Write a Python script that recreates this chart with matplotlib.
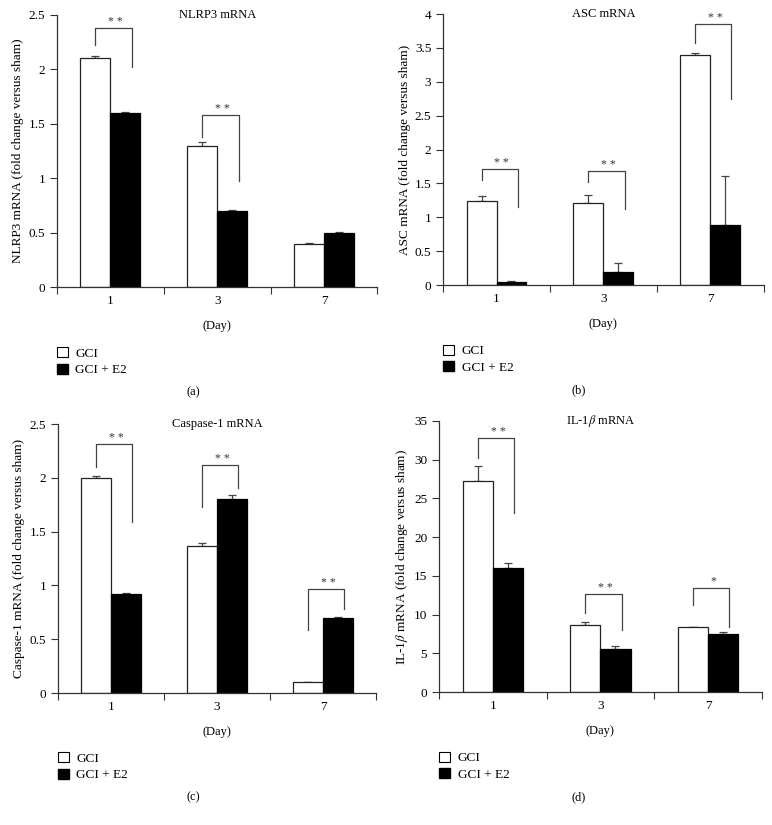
import matplotlib
matplotlib.use("Agg")
import matplotlib.pyplot as plt
from matplotlib.patches import Patch
from matplotlib.ticker import FuncFormatter

plt.rcParams['font.family'] = ['Liberation Serif', 'DejaVu Serif']
plt.rcParams['mathtext.fontset'] = 'stix'

days = ['1', '3', '7']

nlrp3_gci = [2.10, 1.30, 0.40]
nlrp3_gci_err = [0.02, 0.03, 0.005]
nlrp3_e2 = [1.60, 0.70, 0.50]
nlrp3_e2_err = [0.01, 0.005, 0.01]

asc_gci = [1.24, 1.21, 3.40]
asc_gci_err = [0.07, 0.12, 0.02]
asc_e2 = [0.05, 0.19, 0.89]
asc_e2_err = [0.01, 0.13, 0.72]

casp_gci = [2.00, 1.37, 0.10]
casp_gci_err = [0.02, 0.02, 0.003]
casp_e2 = [0.92, 1.80, 0.70]
casp_e2_err = [0.01, 0.04, 0.01]

il1b_gci = [27.3, 8.7, 8.35]
il1b_gci_err = [1.9, 0.3, 0.1]
il1b_e2 = [16.0, 5.6, 7.45]
il1b_e2_err = [0.6, 0.3, 0.25]

# significance brackets: (day index, top, left leg end, right leg end, stars)
nlrp3_sig = [(0, 2.38, 2.22, 2.02, '* *'), (1, 1.58, 1.38, 0.97, '* *')]
asc_sig = [(0, 1.72, 1.55, 1.15, '* *'), (1, 1.69, 1.52, 1.12, '* *'),
           (2, 3.85, 3.57, 2.74, '* *')]
casp_sig = [(0, 2.31, 2.10, 1.59, '* *'), (1, 2.12, 1.73, 1.91, '* *'),
            (2, 0.97, 0.59, 0.78, '* *')]
il1b_sig = [(0, 32.8, 30.2, 23.1, '* *'), (1, 12.66, 10.2, 8.0, '* *'),
            (2, 13.47, 11.2, 8.4, '*')]

FS = 8.5
AX_COL = '#333333'


def panel(fig, rect, gci, gci_err, e2, e2_err, sig, ymax, ystep, title, ylabel, letter, sub_left):
    ax = fig.add_axes(rect)
    x = range(len(days))
    w = 0.28
    xg = [i - w / 2 for i in x]
    xe = [i + w / 2 for i in x]
    ax.bar(xg, gci, w, color='white', edgecolor='#222222', linewidth=0.9, zorder=2)
    ax.bar(xe, e2, w, color='black', edgecolor='black', linewidth=0.9, zorder=2)
    ax.errorbar(xg, gci, yerr=[[0] * 3, gci_err], fmt='none', ecolor='#444444',
                elinewidth=0.9, capsize=3, capthick=0.9, zorder=1)
    ax.errorbar(xe, e2, yerr=[[0] * 3, e2_err], fmt='none', ecolor='#444444',
                elinewidth=0.9, capsize=3, capthick=0.9, zorder=1)

    for i, top, lb, rb, stars in sig:
        xl, xr = i - 0.14, i + 0.20
        ax.plot([xl, xl, xr, xr], [lb, top, top, rb], color='#444444', lw=0.9,
                clip_on=False)
        ax.text((xl + xr) / 2 + 0.02, top, stars, ha='center', va='bottom',
                fontsize=FS, color='#333333')

    ax.set_xlim(-0.5, 2.5)
    ax.set_ylim(0, ymax)
    ax.set_xticks([-0.5, 0.5, 1.5, 2.5])
    ax.set_xticklabels([])
    ax.set_xticks(list(x), minor=True)
    ax.set_xticklabels(days, minor=True)
    ax.tick_params(axis='x', which='major', length=5, direction='out', color=AX_COL)
    ax.tick_params(axis='x', which='minor', length=0, pad=6, labelsize=FS + 1)
    ticks = [ystep * k for k in range(int(round(ymax / ystep)) + 1)]
    ax.set_yticks(ticks)
    ax.yaxis.set_major_formatter(FuncFormatter(lambda v, p: '%g' % round(v, 2)))
    ax.tick_params(axis='y', length=5, direction='out', labelsize=FS + 1, color=AX_COL)
    for s in ['top', 'right']:
        ax.spines[s].set_visible(False)
    for s in ['left', 'bottom']:
        ax.spines[s].set_color(AX_COL)
        ax.spines[s].set_linewidth(0.9)

    ax.text(0.5, 1.0, title, transform=ax.transAxes, ha='center', va='center',
            fontsize=FS + 0.5)
    ax.set_ylabel(ylabel, fontsize=FS + 1, labelpad=3)
    ax.set_xlabel('(Day)', fontsize=FS + 0.5, labelpad=9)

    handles = [Patch(facecolor='white', edgecolor='black', linewidth=0.8, label='GCI'),
               Patch(facecolor='black', edgecolor='black', label='GCI + E2')]
    ax.legend(handles=handles, loc='upper left', bbox_to_anchor=(0.0, -0.22),
              frameon=False, fontsize=FS + 1, handlelength=0.8, handleheight=0.8,
              handletextpad=0.6, labelspacing=0.3, borderaxespad=0, borderpad=0)
    fig.text(sub_left + 0.5 * 386 / 772, rect[1] - 0.127, letter, ha='center',
             va='center', fontsize=FS + 0.5)
    return ax


fig = plt.figure(figsize=(7.72, 8.25), dpi=100)

panel(fig, [0.0738, 0.652, 0.415, 0.330], nlrp3_gci, nlrp3_gci_err, nlrp3_e2, nlrp3_e2_err,
      nlrp3_sig, 2.5, 0.5, 'NLRP3 mRNA', 'NLRP3 mRNA (fold change versus sham)', '(a)', 0.0)
panel(fig, [0.574, 0.6545, 0.415, 0.3285], asc_gci, asc_gci_err, asc_e2, asc_e2_err,
      asc_sig, 4, 0.5, 'ASC mRNA', 'ASC mRNA (fold change versus sham)', '(b)', 0.5)
panel(fig, [0.0751, 0.160, 0.412, 0.326], casp_gci, casp_gci_err, casp_e2, casp_e2_err,
      casp_sig, 2.5, 0.5, 'Caspase-1 mRNA', 'Caspase-1 mRNA (fold change versus sham)', '(c)', 0.0)
panel(fig, [0.5687, 0.1612, 0.418, 0.3285], il1b_gci, il1b_gci_err, il1b_e2, il1b_e2_err,
      il1b_sig, 35, 5, r'IL-1$\beta$ mRNA', r'IL-1$\beta$ mRNA (fold change versus sham)', '(d)', 0.5)

fig.savefig('out.png', dpi=100)
